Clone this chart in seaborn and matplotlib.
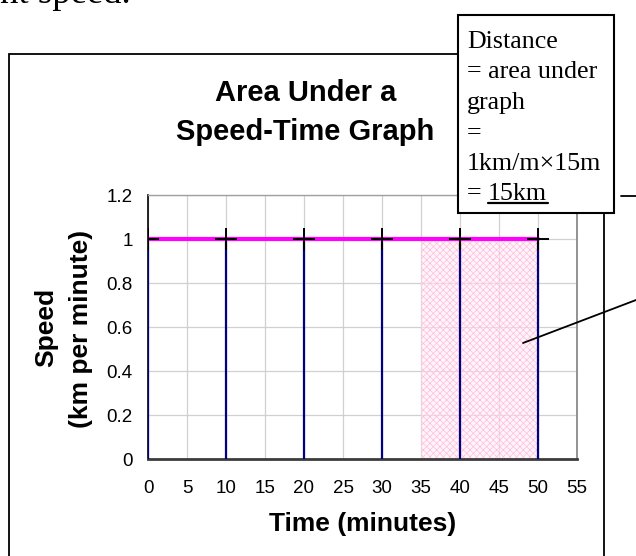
import matplotlib
matplotlib.use("Agg")
import matplotlib.pyplot as plt
import seaborn as sns
import pandas as pd
from matplotlib.patches import Rectangle
from matplotlib.lines import Line2D

# ---------------- data ----------------
time_min = [0, 10, 20, 30, 40, 50]
speed = [1, 1, 1, 1, 1, 1]
shade_x = [35, 50]
shade_speed = [1, 1]
x_ticks = [0, 5, 10, 15, 20, 25, 30, 35, 40, 45, 50, 55]
y_ticks = [0, 0.2, 0.4, 0.6, 0.8, 1.0, 1.2]
y_tick_labels = ["0", "0.2", "0.4", "0.6", "0.8", "1", "1.2"]
title_lines = ["Area Under a", "Speed-Time Graph"]
x_label = "Time (minutes)"
y_label_lines = ["Speed", "(km per minute)"]
note_lines = ["Distance", "= area under", "graph", "=", "1km/m\u00d715m", "= "]
note_answer = "15km"
page_text = "nt speed."

df = pd.DataFrame({"time": time_min, "speed": speed})

# ---------------- figure ----------------
sns.set_style("white")
plt.rcParams["font.family"] = ["Liberation Sans", "DejaVu Sans"]
plt.rcParams["text.color"] = "black"
plt.rcParams["xtick.color"] = "black"
plt.rcParams["ytick.color"] = "black"
plt.rcParams["xtick.labelcolor"] = "black"
plt.rcParams["ytick.labelcolor"] = "black"
plt.rcParams["hatch.linewidth"] = 0.5

W, H = 636, 556
fig = plt.figure(figsize=(W / 100, H / 100), dpi=100)
fig.patch.set_facecolor("white")


def fx(x):
    return x / W


def fy(y):
    return 1 - y / H


ax = fig.add_axes([fx(148), fy(459), (577 - 148) / W, (459 - 195) / H])

ax.set_xlim(0, 55)
ax.set_ylim(0, 1.2)
ax.set_xticks(x_ticks)
ax.set_xticklabels([str(t) for t in x_ticks])
ax.set_yticks(y_ticks)
ax.set_yticklabels(y_tick_labels)
ax.grid(True, color="#d0d0d0", lw=0.9)
ax.set_axisbelow(True)

ax.spines["top"].set_color("#a0a0a0")
ax.spines["top"].set_linewidth(1.0)
ax.spines["right"].set_color("#8a8a8a")
ax.spines["right"].set_linewidth(1.3)
ax.spines["bottom"].set_color("#3c3c3c")
ax.spines["bottom"].set_linewidth(2.0)
ax.spines["left"].set_color("black")
ax.spines["left"].set_linewidth(1.2)

ax.tick_params(axis="x", direction="out", length=4, width=1.2, color="#3c3c3c",
               labelsize=13.5, pad=11, labelcolor="black")
ax.tick_params(axis="y", direction="out", length=5, width=1.0, color="#3c3c3c",
               labelsize=13.5, pad=6, labelcolor="black")

# shaded area (distance travelled)
ax.fill_between(shade_x, 0, shade_speed, facecolor=(1.0, 0.92, 0.96, 0.5),
                edgecolor="#ffbcdc", hatch="xxxxx", linewidth=0, zorder=2.5)

# vertical drop lines
ax.vlines(df["time"], 0, df["speed"], color="#000080", lw=1.6, zorder=3)

# speed line with cross markers
sns.lineplot(data=df, x="time", y="speed", ax=ax, color="#ff00ff", lw=3.0,
             marker="+", markersize=16, markeredgewidth=1.4,
             markeredgecolor="black", zorder=5)
ax.set_xlabel("")
ax.set_ylabel("")
ax.set_xlim(0, 55)
ax.set_ylim(0, 1.2)

# ---------------- text ----------------
fig.text(fx(306), fy(101), title_lines[0], ha="center", va="baseline",
         fontsize=21, fontweight="bold", color="black")
fig.text(fx(305), fy(140), title_lines[1], ha="center", va="baseline",
         fontsize=21, fontweight="bold", color="black")

fig.text(fx(363), fy(524), x_label, ha="center", va="center",
         fontsize=19, fontweight="bold", color="black")
fig.text(fx(46), fy(327), y_label_lines[0], ha="center", va="center",
         rotation=90, fontsize=19, fontweight="bold", color="black")
fig.text(fx(81), fy(329), y_label_lines[1], ha="center", va="center",
         rotation=90, fontsize=19, fontweight="bold", color="black")

# outer chart frame
frame = Rectangle((fx(9), -0.1), (604 - 9) / W, fy(54) + 0.1,
                  transform=fig.transFigure, facecolor="none",
                  edgecolor="black", lw=1.3, zorder=1)
fig.add_artist(frame)

# page text at the top (cut off as in the source page)
fig.text(fx(0), fy(3), page_text, ha="left", va="baseline",
         fontsize=26.5, family=["Liberation Serif", "DejaVu Serif"],
         color="black", zorder=10)

# note box
box = Rectangle((fx(458), fy(213)), (614 - 458) / W, (213 - 15) / H,
                transform=fig.transFigure, facecolor="white",
                edgecolor="black", lw=1.5, zorder=10)
fig.add_artist(box)
baselines = [48, 78.5, 109, 139, 169.5, 199.5]
serif = ["Liberation Serif", "DejaVu Serif"]
for line, b in zip(note_lines, baselines):
    fig.text(fx(467), fy(b), line, ha="left", va="baseline", fontsize=18.7,
             family=serif, color="black", zorder=11)
fig.text(fx(488), fy(baselines[-1]), note_answer, ha="left", va="baseline",
         fontsize=18.7, family=serif, color="black", zorder=11)
fig.add_artist(Line2D([fx(488), fx(548)], [fy(202.5), fy(202.5)],
                      transform=fig.transFigure, color="black", lw=1.6,
                      zorder=11))

# small dash and pointer line
fig.add_artist(Line2D([fx(621), fx(640)], [fy(196), fy(196)],
                      transform=fig.transFigure, color="black", lw=1.3,
                      zorder=11))
fig.add_artist(Line2D([fx(523), fx(640)], [fy(343), fy(298.5)],
                      transform=fig.transFigure, color="black", lw=1.3,
                      zorder=11))

fig.savefig("out.png", dpi=100, facecolor="white")
